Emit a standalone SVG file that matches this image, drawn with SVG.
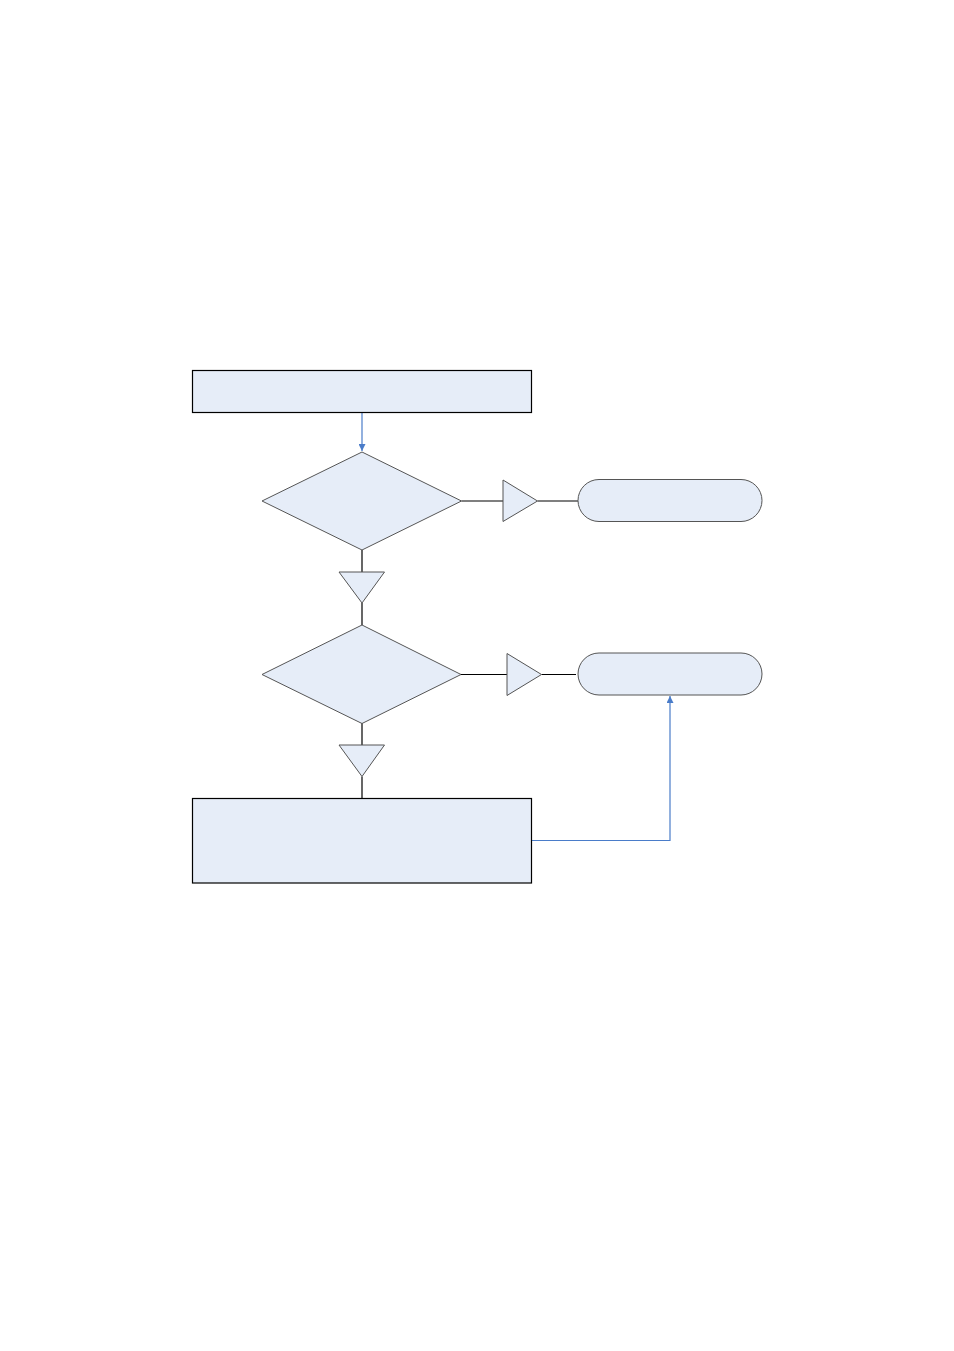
<svg xmlns="http://www.w3.org/2000/svg" width="954" height="1351" viewBox="0 0 954 1351">
<style>
.box{fill:#E6EDF8;stroke:#000;stroke-width:1.2}
.shape{fill:#E6EDF8;stroke:#555;stroke-width:1}
.line{stroke:#000;stroke-width:1.2;fill:none}
.blue{stroke:#4A7CC9;stroke-width:1.2;fill:none}
</style>
<defs>
<marker id="arr" viewBox="0 0 10 10" refX="10" refY="5" markerWidth="7" markerHeight="7" orient="auto" markerUnits="userSpaceOnUse">
<path d="M0,0 L10,5 L0,10 z" fill="#4A7CC9"/>
</marker>
</defs>
<rect width="954" height="1351" fill="#fff"/>
<g id="connectors">
<line class="blue" x1="362" y1="412.5" x2="362" y2="451" marker-end="url(#arr)"/>
<line class="line" x1="461.5" y1="501" x2="503" y2="501"/>
<line class="line" x1="537.5" y1="501" x2="578" y2="501"/>
<line class="line" x1="362" y1="550" x2="362" y2="572"/>
<line class="line" x1="362" y1="603" x2="362" y2="625"/>
<line class="line" x1="461" y1="674.5" x2="507" y2="674.5"/>
<line class="line" x1="541.5" y1="674.5" x2="576" y2="674.5"/>
<line class="line" x1="362" y1="723" x2="362" y2="745"/>
<line class="line" x1="362" y1="776.5" x2="362" y2="798.5"/>
<polyline class="blue" points="531.5,840.5 670,840.5 670,696" marker-end="url(#arr)"/>
</g>
<g id="start"><rect class="box" x="192.5" y="370.5" width="339" height="42"/></g>
<g id="decision1"><polygon class="shape" points="362,452 461.5,501 362,550 262,501"/></g>
<g id="tri-right1"><polygon class="shape" points="503,480 537.5,501 503,521.5"/></g>
<g id="end1"><rect class="shape" x="578" y="479.5" width="184" height="42" rx="21" ry="21"/></g>
<g id="tri-down1"><polygon class="shape" points="339,572 384.5,572 362,603"/></g>
<g id="decision2"><polygon class="shape" points="362,625 461,674.5 362,723.5 262,674.5"/></g>
<g id="tri-right2"><polygon class="shape" points="507,653.5 541.5,674.5 507,695.5"/></g>
<g id="end2"><rect class="shape" x="578" y="653" width="184" height="42" rx="21" ry="21"/></g>
<g id="tri-down2"><polygon class="shape" points="339,745 384.5,745 362,776.5"/></g>
<g id="process"><rect class="box" x="192.5" y="798.5" width="339" height="84.5"/></g>
</svg>
